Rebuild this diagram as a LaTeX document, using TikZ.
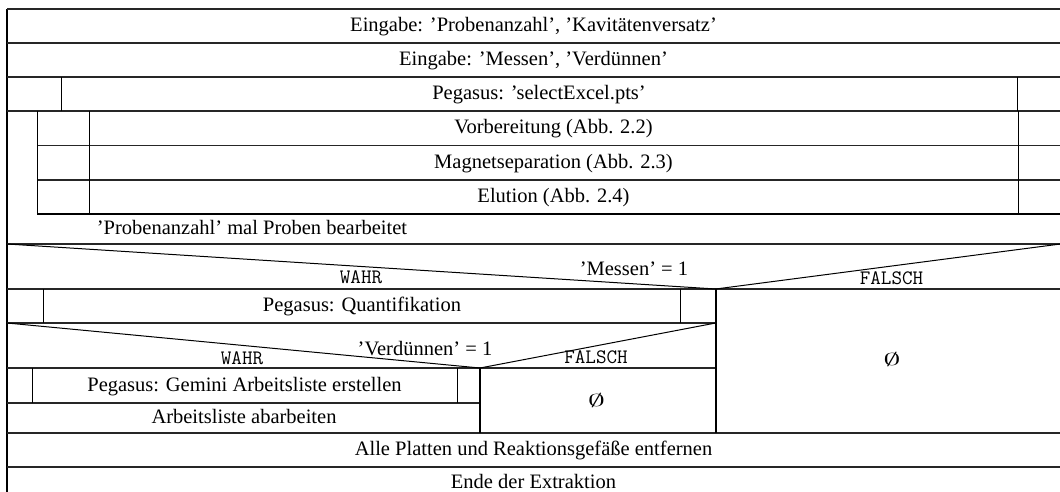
\documentclass[tikz,border=0pt]{standalone}
\usepackage{fontspec}
\setmainfont{Liberation Serif}
\begin{document}
\begin{tikzpicture}[x=1pt,y=-1pt,
  rowline/.style={line width=1.8pt,black!85},
  cellline/.style={line width=0.9pt},
  splitline/.style={line width=1.6pt},
  diagline/.style={line width=1pt},
  lbl/.style={anchor=base,inner sep=0pt,font=\fontsize{20.5}{24}\selectfont},
  tlbl/.style={anchor=base,inner sep=0pt,font=\fontsize{20.5}{24}\selectfont\ttfamily},
  nilbl/.style={anchor=center,inner sep=0pt,font=\fontsize{17.5}{20}\selectfont}]
\useasboundingbox (0,0) rectangle (1060,492);
\clip (0,0) rectangle (1060,492);

% outer left border
\draw[line width=1.4pt] (7,9) -- (7,510);

% row separators
\foreach \yy in {9,43,77,111,244,289,433,467}
  \draw[rowline] (7,\yy) -- (1062,\yy);
\foreach \yy in {145.5,180}
  \draw[rowline] (37,\yy) -- (1062,\yy);
\draw[line width=1.2pt] (37,214) -- (1062,214);
\draw[rowline] (7,323) -- (715.7,323);
\draw[rowline] (7,368) -- (715.7,368);
\draw[rowline] (7,403) -- (480,403);

% call cells of 'selectExcel.pts'
\draw[cellline] (61,77) -- (61,111);
\draw[cellline] (1017,77) -- (1017,111);

% loop body
\draw[cellline] (37,111) -- (37,214);
\draw[cellline] (89,111) -- (89,214);
\draw[cellline] (1018,111) -- (1018,214);

% first decision
\draw[diagline] (7,244) -- (715.7,289) -- (1062,243.8);
\draw[splitline] (715.7,289) -- (715.7,433);
\draw[cellline] (43.4,289) -- (43.4,323);
\draw[cellline] (680.5,289) -- (680.5,323);

% second decision
\draw[diagline] (7,323) -- (480,368) -- (715.7,323);
\draw[splitline] (480,368) -- (480,433);
\draw[cellline] (32,368) -- (32,403);
\draw[cellline] (457,368) -- (457,403);

% texts
\node[lbl] (in1) at (533.5,31.5) {Eingabe: ’Probenanzahl’, ’Kavitätenversatz’};
\node[lbl] (in2) at (533.5,65.5) {Eingabe: ’Messen’, ’Verdünnen’};
\node[lbl] (sel) at (539,99.5) {Pegasus: ’selectExcel.pts’};
\node[lbl] (vor) at (553.5,133.7) {Vorbereitung (Abb. 2.2)};
\node[lbl] (mag) at (553.5,168.2) {Magnetseparation (Abb. 2.3)};
\node[lbl] (elu) at (553.5,202.5) {Elution (Abb. 2.4)};
\node[lbl,anchor=base west] (loop) at (96.7,234.3) {’Probenanzahl’ mal Proben bearbeitet};

\node[lbl] (c1) at (634,275) {’Messen’ = 1};
\node[tlbl] (t1) at (361,283.5) {WAHR};
\node[tlbl] (f1) at (891.5,284) {FALSCH};
\node[lbl] (quant) at (362,311.5) {Pegasus: Quantifikation};

\node[lbl] (c2) at (425,355) {’Verdünnen’ = 1};
\node[tlbl] (t2) at (242,364) {WAHR};
\node[tlbl] (f2) at (596,363.5) {FALSCH};
\node[lbl] (gem) at (244.5,391) {Pegasus: Gemini Arbeitsliste erstellen};
\node[lbl] (abl) at (244,423.5) {Arbeitsliste abarbeiten};
\node[nilbl] (e2) at (596.5,400) {\scalebox{2}[1]{$\emptyset$}};
\node[nilbl] (e1) at (892,359.5) {\scalebox{2}[1]{$\emptyset$}};

\node[lbl] (alle) at (533.5,455.5) {Alle Platten und Reaktionsgefäße entfernen};
\node[lbl] (ende) at (533.5,488) {Ende der Extraktion};
\end{tikzpicture}
\end{document}
